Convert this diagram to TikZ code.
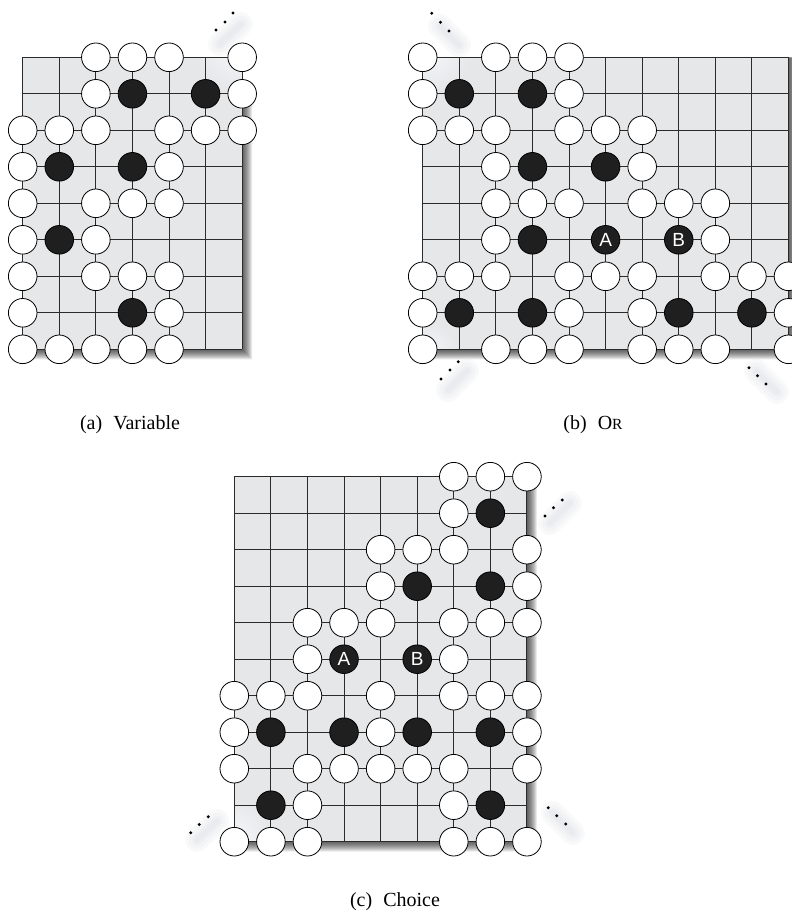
\documentclass[tikz,border=0pt]{standalone}
\usepackage{fontspec}
\setmainfont{Liberation Serif}
\newfontfamily\labfont{Liberation Sans}
\definecolor{boardc}{HTML}{E6E7E9}
\definecolor{lightc}{HTML}{F4F6F9}
\definecolor{linec}{HTML}{2B2B2B}
\definecolor{glowc}{HTML}{C5CCD6}
\tikzset{
  gridline/.style={draw=linec, line width=0.9pt},
  wst/.style={circle, draw=black, line width=0.8pt, fill=white, minimum size=28.6pt, inner sep=0pt},
  bst/.style={wst, fill=black!88},
  lst/.style={bst, text=white, font=\labfont\fontsize{19}{19}\selectfont},
  capt/.style={font=\fontsize{20}{21}\selectfont, anchor=base, inner sep=0pt},
  glowline/.style={line cap=round, draw=glowc, opacity=0.1},
}
\newcommand\boardfill[4]{%
  \fill[boardc] (#1,#2) rectangle ({#1+#3*36.58},{#2+#4*36.5});}
\newcommand\boardgrid[4]{%
  \foreach \c in {0,...,#3} \draw[gridline] ({#1+\c*36.58},#2) -- ({#1+\c*36.58},{#2+#4*36.5});
  \foreach \r in {0,...,#4} \draw[gridline] (#1,{#2+\r*36.5}) -- ({#1+#3*36.58},{#2+\r*36.5});}
% right x, bottom y, right-shadow start y, bottom-shadow start x
\newcommand\bshadow[4]{%
  \foreach \k in {1,...,10}{
    \fill[black, opacity=0.085] (#1,#3) -- ({#1+\k},#3) -- ({#1+\k},{#2+\k}) -- (#4,{#2+\k}) -- (#4,#2) -- (#1,#2) -- cycle;}}
\newcommand\lightpatch[6]{% board x0 y0 x1 y1, centre, radius
  \begin{scope}
    \clip (#1,#2) rectangle (#3,#4);
    \shade[inner color=lightc, outer color=boardc] #5 circle (#6);
  \end{scope}}
\newcommand\wstones[4]{%
  \foreach \r/\c in {#4} \node[wst] (#1-\r-\c) at ({#2+\c*36.58},{#3+\r*36.5}) {};}
\newcommand\bstones[4]{%
  \foreach \r/\c in {#4} \node[bst] (#1-\r-\c) at ({#2+\c*36.58},{#3+\r*36.5}) {};}
\newcommand\glow[2]{%
  \draw[glowline, line width=24pt] #1 -- #2;
  \draw[glowline, line width=17pt] #1 -- #2;
  \draw[glowline, line width=10pt] #1 -- #2;
  \draw[glowline, line width=5pt] #1 -- #2;}
\newcommand\ellips[3]{\fill[black] #1 circle (1.6); \fill[black] #2 circle (1.6); \fill[black] #3 circle (1.6);}
\begin{document}
\begin{tikzpicture}[x=1pt, y=-1pt]
\useasboundingbox (0,0) rectangle (792,916);
\fill[white] (0,0) rectangle (792,916);

% ---------- (a) Variable ----------
\bshadow{242.18}{349.3}{100}{30}
\boardfill{22.7}{57.3}{6}{8}
\lightpatch{22.7}{57.3}{242.18}{349.3}{(236,48)}{42}
\boardgrid{22.7}{57.3}{6}{8}
\glow{(220,44)}{(241,24)}
\wstones{a}{22.7}{57.3}{0/2,0/3,0/4,0/6,1/2,1/6,2/0,2/1,2/2,2/4,2/5,2/6,3/0,3/4,4/0,4/2,4/3,4/4,5/0,5/2,6/0,6/2,6/3,6/4,7/0,7/4,8/0,8/1,8/2,8/3,8/4}
\bstones{a}{22.7}{57.3}{1/3,1/5,3/1,3/3,5/1,7/3}
\ellips{(216,30)}{(225,22)}{(233,13)}
\node[capt] (capa) at (130,429) {(a)\hspace{0.55em}Variable};

% ---------- (b) OR ----------
\bshadow{788.5}{349.3}{57.3}{425}
\boardfill{422.7}{57.3}{10}{8}
\lightpatch{422.7}{57.3}{788.5}{349.3}{(430,50)}{42}
\lightpatch{422.7}{57.3}{788.5}{349.3}{(428,352)}{30}
\boardgrid{422.7}{57.3}{10}{8}
\glow{(440,26)}{(459,45)}
\glow{(448,390)}{(467,371)}
\glow{(756,371)}{(777,392)}
\wstones{b}{422.7}{57.3}{0/0,0/2,0/3,0/4,1/0,1/4,2/0,2/1,2/2,2/4,2/5,2/6,3/2,3/6,4/2,4/3,4/4,4/6,4/7,4/8,5/2,5/8,6/0,6/1,6/2,6/4,6/5,6/6,6/8,6/9,6/10,7/0,7/4,7/6,7/10,8/0,8/2,8/3,8/4,8/6,8/7,8/8,8/10}
\bstones{b}{422.7}{57.3}{1/1,1/3,3/3,3/5,5/3,7/1,7/3,7/7,7/9}
\node[lst] (b-A) at ({422.7+5*36.58},{57.3+5*36.5}) {A};
\node[lst] (b-B) at ({422.7+7*36.58},{57.3+5*36.5}) {B};
\ellips{(431.7,13.3)}{(440.5,22.3)}{(449,31)}
\ellips{(458.3,361.7)}{(450,370)}{(441,379)}
\ellips{(749,367.7)}{(757.5,375.7)}{(766,384)}
\node[capt] (capb) at (593,429) {(b)\hspace{0.55em}O{\fontsize{15.5}{16}\selectfont R}};

% ---------- (c) Choice ----------
\bshadow{526.94}{841.7}{484}{243}
\boardfill{234.3}{476.7}{8}{10}
\lightpatch{234.3}{476.7}{526.94}{841.7}{(236,836)}{36}
\boardgrid{234.3}{476.7}{8}{10}
\glow{(550,523)}{(570,503)}
\glow{(197,840)}{(217,821)}
\glow{(553,813)}{(573,833)}
\wstones{c}{234.3}{476.7}{0/6,0/7,0/8,1/6,2/4,2/5,2/6,2/8,3/4,3/8,4/2,4/3,4/4,4/6,4/7,4/8,5/2,5/6,6/0,6/1,6/2,6/4,6/6,6/7,6/8,7/0,7/4,7/8,8/0,8/2,8/3,8/4,8/5,8/6,8/8,9/2,9/6,10/0,10/1,10/2,10/6,10/7,10/8}
\bstones{c}{234.3}{476.7}{1/7,3/5,3/7,7/1,7/3,7/5,7/7,9/1,9/7}
\node[lst] (c-A) at ({234.3+3*36.58},{476.7+5*36.5}) {A};
\node[lst] (c-B) at ({234.3+5*36.58},{476.7+5*36.5}) {B};
\ellips{(545,516)}{(553.5,507.7)}{(562.3,500)}
\ellips{(190.7,832.7)}{(199.3,824.5)}{(208.3,816.7)}
\ellips{(548.3,807.7)}{(556.7,815.7)}{(565.7,824)}
\node[capt] (capc) at (395,906) {(c)\hspace{0.55em}Choice};
\end{tikzpicture}
\end{document}
